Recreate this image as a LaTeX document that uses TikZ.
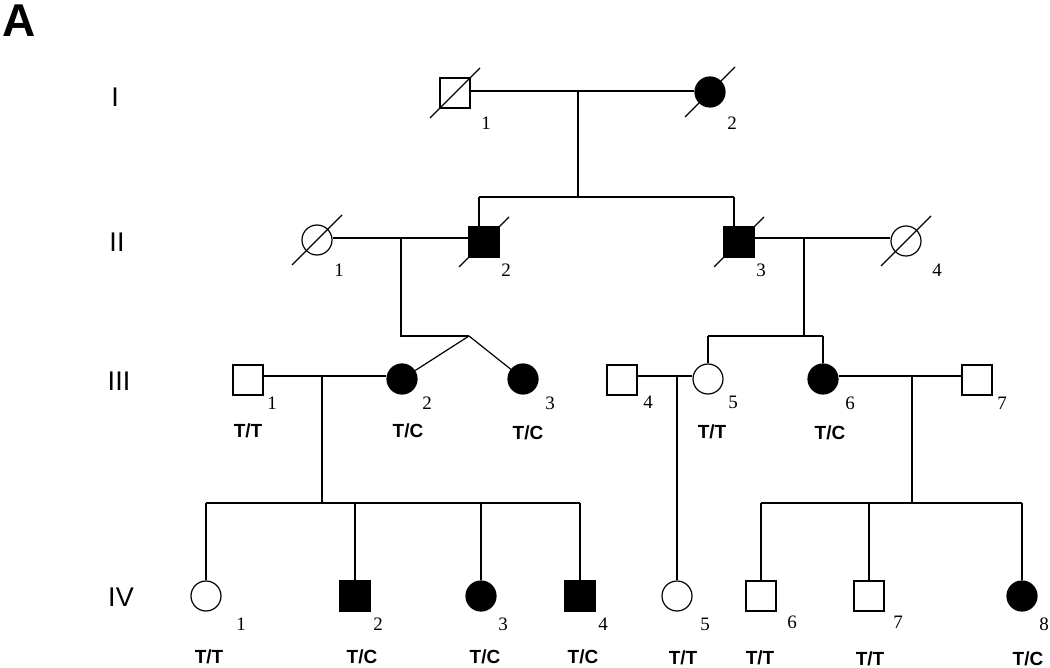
\documentclass[tikz,border=0pt]{standalone}
\usepackage{fontspec}
\setmainfont{Liberation Serif}
\newfontfamily\arialf{Liberation Sans}
\begin{document}
\begin{tikzpicture}[x=1pt,y=-1pt,line width=1.2pt,
  sq/.style={draw,rectangle,minimum size=30pt,inner sep=0pt},
  ci/.style={draw,circle,minimum size=30pt,inner sep=0pt},
  aff/.style={fill=black},
  unaff/.style={fill=white},
  num/.style={font=\fontsize{19}{19}\selectfont,inner sep=0pt},
  geno/.style={font=\arialf\bfseries\fontsize{19}{19}\selectfont,inner sep=0pt},
  gen/.style={font=\arialf\fontsize{27}{27}\selectfont,inner sep=0pt},
  slash/.style={line width=1.1pt}]
\useasboundingbox (0,0) rectangle (1050,668);
\fill[white] (0,0) rectangle (1050,668);

% panel letter and generation labels
\node[font=\arialf\bfseries\fontsize{46}{46}\selectfont,inner sep=0pt] (panel) at (19,21) {A};
\node[gen] (gI) at (115,97) {I};
\node[gen] (gII) at (117,242) {II};
\node[gen] (gIII) at (119,381) {III};
\node[gen] (gIV) at (121,597) {IV};

% ---------- Generation I ----------
\node[sq,unaff] (I1) at (455,93) {};
\node[ci,aff] (I2) at (710,92) {};
\draw[slash] ([shift={(-25,25)}]I1.center) -- ([shift={(25,-25)}]I1.center);
\draw[slash] ([shift={(-25,25)}]I2.center) -- ([shift={(25,-25)}]I2.center);
\node[num] (nI1) at (486,123) {1};
\node[num] (nI2) at (732,123) {2};
\coordinate (mI) at (578,91);
\draw (I1.east |- mI) -- (I2.west |- mI);
\coordinate (sIl) at (479,197);
\coordinate (sIr) at (734,197);
\draw (mI) -- (mI |- sIl);
\draw (sIl) -- (sIr);

% ---------- Generation II ----------
\node[ci,unaff] (II1) at (317,240) {};
\node[sq,aff] (II2) at (484,242) {};
\node[sq,aff] (II3) at (739,242) {};
\node[ci,unaff] (II4) at (906,241) {};
\draw[slash] ([shift={(-25,25)}]II1.center) -- ([shift={(25,-25)}]II1.center);
\draw[slash] ([shift={(-25,25)}]II2.center) -- ([shift={(25,-25)}]II2.center);
\draw[slash] ([shift={(-25,25)}]II3.center) -- ([shift={(25,-25)}]II3.center);
\draw[slash] ([shift={(-25,25)}]II4.center) -- ([shift={(25,-25)}]II4.center);
\node[num] (nII1) at (339,270) {1};
\node[num] (nII2) at (506,270) {2};
\node[num] (nII3) at (761,270) {3};
\node[num] (nII4) at (937,270) {4};
\draw (sIl) -- (sIl |- II2.north);
\draw (sIr) -- (sIr |- II3.north);
\coordinate (mIIa) at (401,238);
\coordinate (mIIb) at (804,238);
\draw (II1.east |- mIIa) -- (II2.west |- mIIa);
\draw (II3.east |- mIIb) -- (II4.west |- mIIb);
\coordinate (tw) at (469,336);
\draw (mIIa) -- (mIIa |- tw) -- (tw);

% ---------- Generation III ----------
\node[sq,unaff] (III1) at (248,380) {};
\node[ci,aff] (III2) at (402,379) {};
\node[ci,aff] (III3) at (523,379) {};
\node[sq,unaff] (III4) at (622,380) {};
\node[ci,unaff] (III5) at (708,379) {};
\node[ci,aff] (III6) at (823,379) {};
\node[sq,unaff] (III7) at (977,380) {};
\node[num] (nIII1) at (272,403) {1};
\node[num] (nIII2) at (427,403) {2};
\node[num] (nIII3) at (550,403) {3};
\node[num] (nIII4) at (648,402) {4};
\node[num] (nIII5) at (733,402) {5};
\node[num] (nIII6) at (850,403) {6};
\node[num] (nIII7) at (1002,403) {7};
\node[geno] (gIII1) at (248,431) {T/T};
\node[geno] (gIII2) at (408,431) {T/C};
\node[geno] (gIII3) at (528,433) {T/C};
\node[geno] (gIII5) at (712,432) {T/T};
\node[geno] (gIII6) at (830,433) {T/C};
% twins
\draw (tw) -- (III2);
\draw (tw) -- (III3);
% sibship of II-3 x II-4
\coordinate (sIIl) at (708,336);
\coordinate (sIIr) at (823,336);
\draw (mIIb) -- (mIIb |- sIIl);
\draw (sIIl) -- (sIIr);
\draw (sIIl) -- (III5.north);
\draw (sIIr) -- (III6.north);
% marriages
\coordinate (mIIIa) at (322,376);
\coordinate (mIIIb) at (677,376);
\coordinate (mIIIc) at (912,376);
\draw (III1.east |- mIIIa) -- (III2.west |- mIIIa);
\draw (III4.east |- mIIIb) -- (III5.west |- mIIIb);
\draw (III6.east |- mIIIc) -- (III7.west |- mIIIc);

% ---------- Generation IV ----------
\node[ci,unaff] (IV1) at (206,596) {};
\node[sq,aff] (IV2) at (355,596) {};
\node[ci,aff] (IV3) at (481,596) {};
\node[sq,aff] (IV4) at (580,596) {};
\node[ci,unaff] (IV5) at (677,596) {};
\node[sq,unaff] (IV6) at (761,596) {};
\node[sq,unaff] (IV7) at (869,596) {};
\node[ci,aff] (IV8) at (1022,596) {};
\node[num] (nIV1) at (241,624) {1};
\node[num] (nIV2) at (378,624) {2};
\node[num] (nIV3) at (503,624) {3};
\node[num] (nIV4) at (603,624) {4};
\node[num] (nIV5) at (705,624) {5};
\node[num] (nIV6) at (792,622) {6};
\node[num] (nIV7) at (898,622) {7};
\node[num] (nIV8) at (1044,624) {8};
\node[geno] (gIV1) at (209,657) {T/T};
\node[geno] (gIV2) at (362,657) {T/C};
\node[geno] (gIV3) at (485,657) {T/C};
\node[geno] (gIV4) at (583,657) {T/C};
\node[geno] (gIV5) at (683,658) {T/T};
\node[geno] (gIV6) at (760,658) {T/T};
\node[geno] (gIV7) at (870,659) {T/T};
\node[geno] (gIV8) at (1028,659) {T/C};
% sibships
\coordinate (sIIIl) at (206,503);
\coordinate (sIIIr) at (580,503);
\draw (mIIIa) -- (mIIIa |- sIIIl);
\draw (sIIIl) -- (sIIIr);
\draw (IV1.north) -- (IV1.north |- sIIIl);
\draw (IV2.north) -- (IV2.north |- sIIIl);
\draw (IV3.north) -- (IV3.north |- sIIIl);
\draw (IV4.north) -- (IV4.north |- sIIIl);
\draw (mIIIb) -- (IV5.north);
\coordinate (sIIIc) at (761,503);
\coordinate (sIIId) at (1022,503);
\draw (mIIIc) -- (mIIIc |- sIIIc);
\draw (sIIIc) -- (sIIId);
\draw (IV6.north) -- (IV6.north |- sIIIc);
\draw (IV7.north) -- (IV7.north |- sIIIc);
\draw (IV8.north) -- (IV8.north |- sIIIc);
\end{tikzpicture}
\end{document}
